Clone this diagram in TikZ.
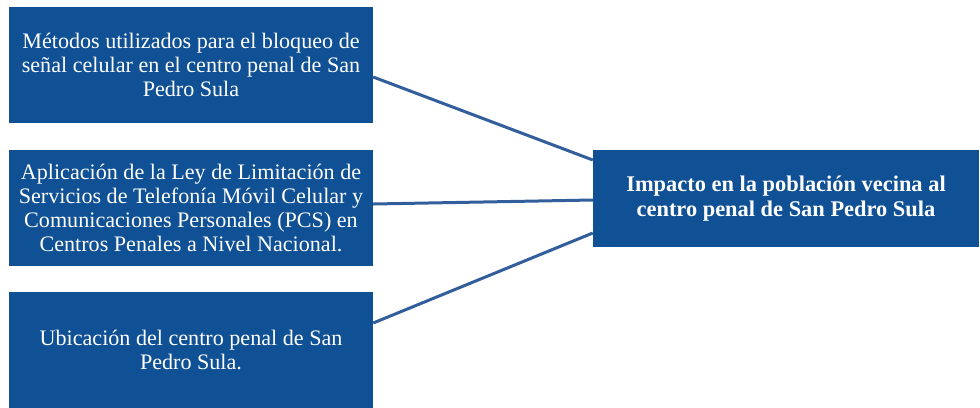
\documentclass[tikz,border=0pt]{standalone}
\usepackage{fontspec}
\setmainfont{Liberation Serif}
\definecolor{boxblue}{RGB}{16,80,148}
\definecolor{lineblue}{RGB}{50,94,156}
\begin{document}
\begin{tikzpicture}[x=1bp,y=-1bp,
    causebox/.style={fill=boxblue, text=white, minimum width=364bp, minimum height=116bp,
        align=center, inner sep=0pt, font=\fontsize{22.2}{24}\selectfont},
    effectbox/.style={fill=boxblue, text=white, minimum width=386bp, minimum height=97bp,
        align=center, inner sep=0pt, font=\fontsize{22.5}{25}\selectfont\bfseries},
    link/.style={draw=lineblue, line width=3bp}]
    \useasboundingbox (0,0) rectangle (980,407);

    % causes on the left
    \node[causebox] (metodos) at (191,65) {Métodos utilizados para el bloqueo de\\ se\~nal celular en el centro penal de San\\ Pedro Sula};
    \node[causebox] (ley) at (191,208) {Aplicación de la Ley de Limitación de\\ Servicios de Telefonía Móvil Celular y\\ Comunicaciones Personales (PCS) en\\ Centros Penales a Nivel Nacional.};
    \node[causebox] (ubicacion) at (191,350) {Ubicación del centro penal de San\\ Pedro Sula.};

    % effect on the right
    \node[effectbox] (impacto) at (786,198.5) {Impacto en la población vecina al\\ centro penal de San Pedro Sula};

    \draw[link] ([yshift=-12bp]metodos.east) -- ([yshift=38.5bp]impacto.west);
    \draw[link] ([yshift=4bp]ley.east) -- ([yshift=-1.5bp]impacto.west);
    \draw[link] ([yshift=27bp]ubicacion.east) -- ([yshift=-34.5bp]impacto.west);
\end{tikzpicture}
\end{document}
